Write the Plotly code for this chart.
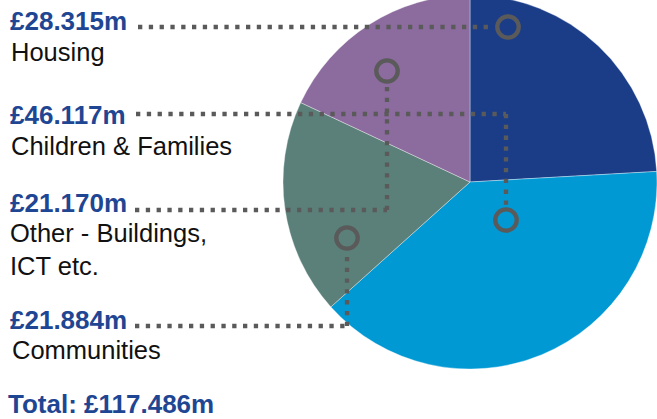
import plotly.graph_objects as go

# ---- data ----
categories = ["Housing", "Children & Families", "Communities", "Other - Buildings, ICT etc."]
values = [28.315, 46.117, 21.884, 21.170]
value_labels = ["£28.315m", "£46.117m", "£21.884m", "£21.170m"]
desc_labels = ["Housing", "Children & Families", "Communities", "Other - Buildings,<br>ICT etc."]
total_label = "Total: £117.486m"
colors = ["#1b3d88", "#0099d3", "#5a8079", "#8c6b9e"]

# figure is 5px taller than the window; the top 5px are hidden (pie is cropped at the top)
SHIFT = 5
W, H = 657, 419 + SHIFT

def px(x):
    return x / W

def py(y):
    return 1 - (y + SHIFT) / H

fig = go.Figure()
fig.add_trace(go.Pie(
    labels=categories, values=values, sort=False, direction="clockwise", rotation=0,
    marker=dict(colors=colors, line=dict(color="rgba(255,255,255,0.6)", width=0.6)),
    textinfo="none", hoverinfo="label+value", showlegend=False,
    domain=dict(x=[px(283), 1], y=[py(369), 1]),
))

BLUE = "#1f4693"
GRAY = "#5a5a5a"
FONT = "Liberation Sans, Arial, sans-serif"

anns = []
def text(x, y_mid, t, bold=False, color="#111111"):
    anns.append(dict(x=px(x), y=py(y_mid), xref="paper", yref="paper", text=("<b>%s</b>" % t) if bold else t,
                     showarrow=False, xanchor="left", yanchor="middle", align="left",
                     font=dict(family=FONT, size=26 if bold else 25.5, color=color)))

# value labels (y is centre of text line)
label_rows = [(8, 21, value_labels[0]), (8, 115, value_labels[1]), (8, 203, value_labels[3]), (8, 320, value_labels[2])]
for x, y, t in label_rows:
    text(x, y, t, bold=True, color=BLUE)
text(9, 52, desc_labels[0])
text(9, 146, desc_labels[1])
text(8, 249, desc_labels[3])
text(10, 350, desc_labels[2])
text(6, 404, total_label, bold=True, color=BLUE)

shapes = []
DOT = dict(color=GRAY, width=4.3, dash="4.3px,6.5px")
def seg(x0, y0, x1, y1):
    shapes.append(dict(type="line", xref="paper", yref="paper", x0=px(x0), y0=py(y0), x1=px(x1), y1=py(y1), line=DOT))
def ring(cx, cy):
    r = 10.7
    shapes.append(dict(type="circle", xref="paper", yref="paper", x0=px(cx - r), x1=px(cx + r),
                       y0=py(cy + r), y1=py(cy - r), line=dict(color=GRAY, width=4.3)))

# Housing
seg(138, 27, 492, 27); ring(508, 27)
# Children & Families
seg(136, 114, 506, 114); seg(506, 114, 506, 205); ring(506, 220)
# Other
seg(135, 210, 387, 210); seg(387, 210, 387, 86); ring(387, 71)
# Communities
seg(135, 326, 347, 326); seg(347, 326, 347, 253); ring(347, 238)

fig.update_layout(
    width=W, height=H, margin=dict(l=0, r=0, t=0, b=0),
    paper_bgcolor="white", plot_bgcolor="white",
    annotations=anns, shapes=shapes,
)
fig.write_html(
    "out.html",
    config={"displayModeBar": False},
    post_script=(
        "document.body.style.margin='-%dpx 0 0 0';"
        "document.documentElement.style.overflow='hidden';"
        "document.body.style.overflow='hidden';" % SHIFT
    ),
)
